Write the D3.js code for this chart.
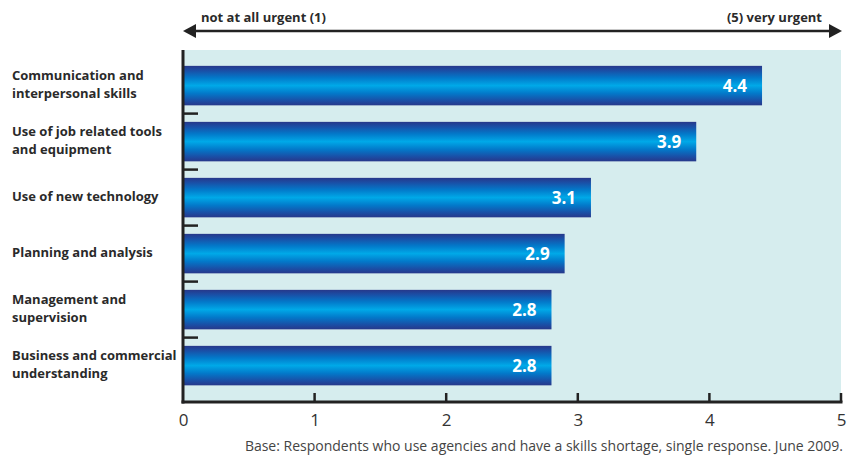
<!DOCTYPE html>
<html>
<head>
<meta charset="utf-8">
<script src="https://cdn.jsdelivr.net/npm/d3@7"></script>
<style>
  html, body { margin: 0; padding: 0; background: #fff; }
  svg { display: block; }
</style>
</head>
<body>
<svg id="chart" width="859" height="455"></svg>
<script>
const categories = [
  ["Communication and", "interpersonal skills"],
  ["Use of job related tools", "and equipment"],
  ["Use of new technology"],
  ["Planning and analysis"],
  ["Management and", "supervision"],
  ["Business and commercial", "understanding"]
];
const values = [4.4, 3.9, 3.1, 2.9, 2.8, 2.8];
const xTicks = [0, 1, 2, 3, 4, 5];
const leftLabel = "not at all urgent (1)";
const rightLabel = "(5) very urgent";
const footnote = "Base: Respondents who use agencies and have a skills shortage, single response. June 2009.";

const svg = d3.select("#chart");
const font = "'Open Sans', 'DejaVu Sans', sans-serif";

const x0 = 183, x1 = 841, panelTop = 50, axisY = 402;
const x = d3.scaleLinear().domain([0, 5]).range([x0, x1]);
const idx = d3.range(categories.length);
const y = d3.scaleBand().domain(idx).range([57.6, 393.6]).paddingInner(0.295).paddingOuter(0.1475);

// gradient
const defs = svg.append("defs");
const grad = defs.append("linearGradient").attr("id", "barGrad")
  .attr("x1", 0).attr("y1", 0).attr("x2", 0).attr("y2", 1);
[[0, "#27388a"], [0.12, "#1a4fa6"], [0.3, "#0378c9"], [0.5, "#00a9e8"], [0.7, "#0378c9"], [0.88, "#1a4fa6"], [1, "#27388a"]]
  .forEach(([o, c]) => grad.append("stop").attr("offset", o).attr("stop-color", c));

// panel background
svg.append("rect").attr("x", x0).attr("y", panelTop)
  .attr("width", x1 - x0).attr("height", axisY - panelTop).attr("fill", "#d6edee");

// bars
svg.append("g").selectAll("rect").data(idx).join("rect")
  .attr("x", x(0)).attr("y", i => y(i))
  .attr("width", i => x(values[i]) - x(0)).attr("height", y.bandwidth())
  .attr("fill", "url(#barGrad)");

// value labels
svg.append("g").selectAll("text").data(idx).join("text")
  .attr("x", i => x(values[i]) - 15).attr("y", i => y(i) + y.bandwidth() / 2)
  .attr("dy", "0.36em").attr("text-anchor", "end")
  .attr("font-family", font).attr("font-weight", "bold").attr("font-size", 17)
  .attr("fill", "#fff").text(i => values[i].toFixed(1));

// category separator ticks
svg.append("g").selectAll("line").data(idx.slice(1)).join("line")
  .attr("x1", x0).attr("x2", x0 + 15)
  .attr("y1", i => y(i) - (y.step() - y.bandwidth()) / 2)
  .attr("y2", i => y(i) - (y.step() - y.bandwidth()) / 2)
  .attr("stroke", "#222").attr("stroke-width", 2.5);

// left axis line
svg.append("line").attr("x1", x0).attr("x2", x0).attr("y1", panelTop).attr("y2", axisY + 1.5)
  .attr("stroke", "#222").attr("stroke-width", 3);

// bottom axis
const xAxis = d3.axisBottom(x).tickValues(xTicks).tickFormat(d3.format("d")).tickSize(0).tickPadding(12);
const gx = svg.append("g").attr("transform", `translate(0,${axisY})`).call(xAxis);
gx.select(".domain").remove();
gx.selectAll("text").attr("font-family", font).attr("font-size", 17).attr("fill", "#333");
svg.append("line").attr("x1", x0 - 1.5).attr("x2", x1 + 1.5).attr("y1", axisY).attr("y2", axisY)
  .attr("stroke", "#222").attr("stroke-width", 3);
svg.append("g").selectAll("line").data(xTicks.slice(1)).join("line")
  .attr("x1", d => x(d)).attr("x2", d => x(d))
  .attr("y1", axisY - 9).attr("y2", axisY)
  .attr("stroke", "#222").attr("stroke-width", 2.5);

// category labels
const lab = svg.append("g").selectAll("text").data(idx).join("text")
  .attr("font-family", font).attr("font-weight", "bold").attr("font-size", 13)
  .attr("fill", "#2a2a2a");
lab.each(function (i) {
  const lines = categories[i];
  const cy = y(i) + y.bandwidth() / 2;
  const lh = 18;
  const start = cy - (lines.length - 1) * lh / 2;
  d3.select(this).selectAll("tspan").data(lines).join("tspan")
    .attr("x", 12).attr("y", (d, k) => start + k * lh - 1).attr("dy", "0.35em").text(d => d);
});

// top arrow
const ay = 31;
svg.append("line").attr("x1", x0 + 8).attr("x2", x1 - 8).attr("y1", ay).attr("y2", ay)
  .attr("stroke", "#222").attr("stroke-width", 2.5);
svg.append("path").attr("d", `M${x0},${ay} L${x0 + 13},${ay - 7} L${x0 + 13},${ay + 7} Z`).attr("fill", "#222");
svg.append("path").attr("d", `M${x1 + 1},${ay} L${x1 - 12},${ay - 7} L${x1 - 12},${ay + 7} Z`).attr("fill", "#222");
svg.append("text").attr("x", 201).attr("y", 22)
  .attr("font-family", font).attr("font-weight", "bold").attr("font-size", 13).attr("fill", "#2a2a2a")
  .text(leftLabel);
svg.append("text").attr("x", 822).attr("y", 22).attr("text-anchor", "end")
  .attr("font-family", font).attr("font-weight", "bold").attr("font-size", 13).attr("fill", "#2a2a2a")
  .text(rightLabel);

// footnote
svg.append("text").attr("x", 843).attr("y", 451).attr("text-anchor", "end")
  .attr("font-family", font).attr("font-size", 14).attr("fill", "#444")
  .text(footnote);
</script>
</body>
</html>
